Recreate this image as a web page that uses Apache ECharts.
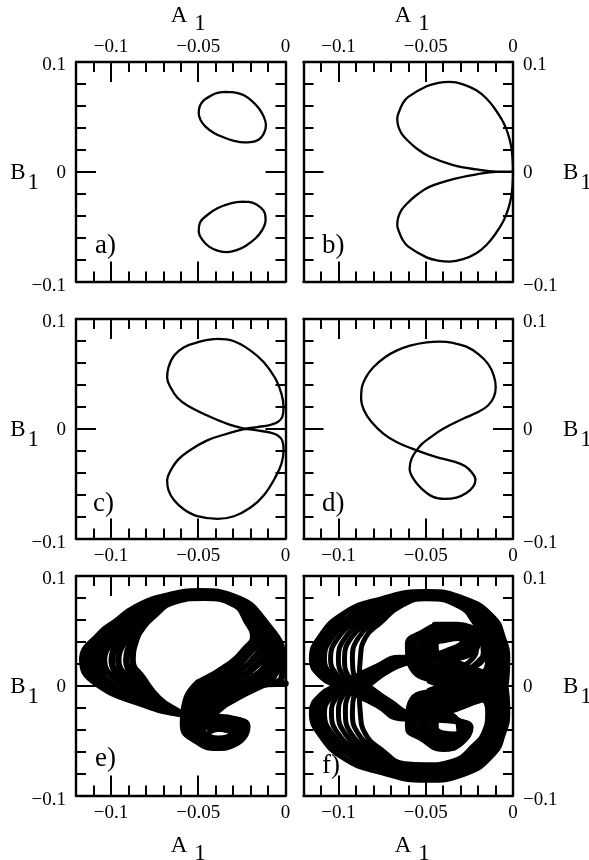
<!DOCTYPE html>
<html><head><meta charset="utf-8">
<style>html,body{margin:0;padding:0;background:#fff}#c{width:589px;height:860px}</style>
<script src="https://cdn.jsdelivr.net/npm/echarts@6/dist/echarts.min.js"></script>
</head><body><div id="c"></div>
<script>
// All curve values are in thousandths of A1 / B1.
const xMajorTicks=[-0.1,-0.05,0];
const xTickLabels=['\u22120.1','\u22120.05','0'];
const yTickLabels=['\u22120.1','0','0.1'];
const panelNames=['a)','b)','c)','d)','e)','f)'];

const aUpper=[[-33.3,72.7],[-28.6,72.1],[-23.8,69.7],[-19,64.2],[-15.2,57.6],[-12.4,50],[-11.2,42.4],[-12.4,34.8],[-15.2,29.4],[-20,26.9],[-23.8,26.7],[-29.5,28.2],[-35.2,31.2],[-41,35.4],[-45.7,40.9],[-48.6,47],[-49.7,53],[-49.1,59.7],[-46.7,65.2],[-42.9,69.1],[-39,71.8],[-33.3,72.7]];
const aLower=[[-23.8,-27.3],[-19,-28.2],[-14.3,-32.4],[-11.8,-37.9],[-11.4,-43.9],[-13.3,-53],[-17.1,-60.6],[-22.9,-67.6],[-27.6,-71.2],[-33.3,-73.3],[-39,-71.8],[-43.8,-68.2],[-47.6,-62.1],[-49.7,-54.5],[-49,-46.4],[-44.8,-39.4],[-39,-33.3],[-31.4,-28.8],[-23.8,-27.3]];
const bCurve=[[0,0],[-0.2,10.6],[-1,22.7],[-2.9,34.8],[-5.7,45.5],[-10.5,57.6],[-15.2,66.7],[-21,74.2],[-28.6,79.7],[-36.2,81.8],[-42.9,80.9],[-49.5,77.9],[-60,68.2],[-63.2,62.1],[-65.3,54.5],[-66.3,48.5],[-65.7,41.5],[-63.8,34.8],[-60.6,28.8],[-55.2,21.2],[-47.6,13.6],[-34.3,6.1],[-21,2.1],[-9.5,0],[0,0],[-9.5,0],[-21,-2.4],[-34.3,-6.7],[-47.6,-13.6],[-55.2,-21.2],[-60.6,-28.8],[-63.8,-34.8],[-65.7,-41.5],[-66.3,-48.5],[-65.3,-54.5],[-63.2,-62.1],[-60,-68.2],[-49.5,-78],[-42.9,-80.9],[-36.2,-81.8],[-28.6,-79.7],[-21,-74.2],[-15.2,-66.7],[-10.5,-57.6],[-5.7,-45.5],[-2.9,-34.8],[-1,-22.7],[-0.2,-10.6],[0,0]];
const cCurve=[[-22.9,0],[-33.3,4.5],[-44.8,12.1],[-56.2,21.2],[-61.9,28.2],[-65.7,37.3],[-67.8,46.4],[-67,56.1],[-63.8,66.7],[-58.1,74.2],[-50.5,78.8],[-39,81.8],[-29.5,79.7],[-20,71.2],[-12.4,60.6],[-5.7,45.5],[-2.3,31.8],[-1.1,19.7],[-1.9,10.6],[-4.4,6.1],[-8.6,3.6],[-16.2,1.5],[-22.9,0],[-31.4,-3.6],[-44.8,-10.6],[-56.2,-21.2],[-61.9,-28.8],[-65.7,-37.9],[-67.8,-47],[-67,-56.1],[-63.8,-65.2],[-58.1,-73.6],[-50.5,-79.7],[-39,-82.1],[-29.5,-79.7],[-20,-71.8],[-12.4,-60.6],[-5.7,-43.9],[-2.3,-31.8],[-1.1,-19.7],[-1.9,-10.6],[-4.4,-6.1],[-8.6,-3.6],[-16.2,-1.5],[-22.9,0]];
const dCurve=[[-55.2,-19.7],[-52.4,-14.2],[-47.6,-8.2],[-40,0],[-28.6,9.1],[-20,15.2],[-14.3,21.2],[-11,28.8],[-9.9,37.9],[-11,48.5],[-14.3,59.1],[-20,68.2],[-26.7,74.8],[-34.3,78.2],[-41.9,79.4],[-49.5,78.8],[-59,75.8],[-66.7,71.2],[-73.3,65.2],[-80,56.1],[-84.2,47],[-86.7,36.4],[-87,27.3],[-85.3,16.7],[-81,6.1],[-74.3,-4.5],[-66.7,-12.1],[-55.2,-19.7],[-43.8,-25.8],[-34.3,-29.7],[-27.6,-33.9],[-23.8,-39.4],[-21.5,-46.4],[-22.9,-53],[-26.7,-58.5],[-32.4,-62.7],[-39,-63.9],[-45.7,-62.1],[-52.4,-54.5],[-57.1,-45.5],[-59.2,-36.4],[-58.1,-27.3],[-55.2,-19.7]];

// Panel e: each row is one passage across the band, inner strand to outer strand.
const eSBandLow=[[-50.1,2.7],[-47.6,-0.3],[-45.1,-3.3],[-42.9,-6.4],[-40.6,-8.4],[-38.3,-11],[-36,-14],[-33.7,-16]];
const eSBandMid=[[-31.4,20.4],[-29.1,17.3],[-26.5,13.7],[-23.8,10],[-21,5.8],[-18.1,2.1],[-15.2,-0.3],[-12.4,1.2]];
const eSBandHigh=[[-22.9,34],[-20,31],[-17.1,27],[-14.3,23.4],[-11.4,18.8],[-8.6,14.9],[-5.7,11.2],[-2.3,6.7]];
const eRightEdge=[[-18.5,44],[-15.8,42.2],[-13.3,40.1],[-10.9,37.1],[-8.6,34],[-6.3,31],[-3.8,27],[-1.3,21.9]];
const eUpperRight=[[-22.3,59],[-21.1,59.3],[-20,59.9],[-18.9,60.5],[-17.7,61.1],[-16.6,61.7],[-15.4,62.3],[-12.5,60]];
const eTopRight=[[-29.5,74.2],[-29.5,75.1],[-29.5,76],[-29.5,76.9],[-29.5,77.8],[-29.5,78.7],[-29.5,79.6],[-29.5,81]];
const eTop=[[-46.7,80.2],[-47,80.8],[-47.4,81.7],[-47.8,82.3],[-48.2,83.2],[-48.6,84.1],[-48.6,85],[-48.6,86]];
const eTopLeft=[[-62.7,77.2],[-63.4,77.8],[-64.2,78.4],[-65,79],[-65.7,79.6],[-66.3,80.6],[-66.9,81.2],[-67.6,82.1]];
const eUpperLeft=[[-77.1,61.4],[-78.5,63.5],[-79.8,65.3],[-81.1,66.9],[-82.5,68.4],[-83.6,69.6],[-84.8,70.8],[-85.7,71.7]];
const eShoulder=[[-82,52.5],[-84,54],[-86,55.5],[-88.5,56.5],[-90.5,57],[-93,57.5],[-96,57.8],[-98,57.5]];
const eLeftHigh=[[-85.5,42.2],[-87.7,43.5],[-90.6,44.7],[-93,45.6],[-96,46.5],[-99,47.1],[-102.5,47.7],[-106.1,47.7]];
const eLeftEdge=[[-87.6,23.4],[-91.2,23.4],[-95.8,23.4],[-99.5,23.4],[-104,23.4],[-108,23.4],[-112,23.4],[-116.4,23.4]];
const eLeftLow=[[-81.5,6.7],[-84.6,5.8],[-88,4.6],[-91.2,3.3],[-94.7,2.1],[-99,0.6],[-103.4,0],[-108.8,2.7]];
const eNarrowing=[[-72.5,-11.6],[-73,-12.8],[-74.1,-13.7],[-75.2,-14.6],[-76.4,-15.8],[-77.5,-16.7],[-78.7,-17.6],[-79.8,-17.9]];
const eCrossing=[[-62,-23],[-62,-23.5],[-61.5,-24],[-61.5,-24.5],[-61,-25],[-61,-25],[-60.5,-25.5],[-60.5,-25.5]];
const eLobeTop=[[-44.8,-37.4],[-44.4,-35.6],[-43.8,-33.7],[-43.2,-31.9],[-42.9,-30.7],[-42.5,-29.8],[-41.9,-28.9],[-41,-28.3]];
const eLobeTopRight=[[-37.1,-38.9],[-35.6,-37.4],[-34.3,-35.9],[-33,-34.3],[-31.8,-32.8],[-30.9,-31.6],[-30.1,-30.7],[-29.5,-30.4]];
const eLobeRight=[[-31,-41.9],[-29.5,-40.7],[-28,-39.5],[-26.5,-38.6],[-25,-37.7],[-23.8,-36.8],[-22.9,-36.2],[-21.9,-36.8]];
const eLobeLowRight=[[-33.3,-47.1],[-32.8,-48],[-32.2,-48.9],[-31.4,-49.8],[-30.9,-50.7],[-30.3,-51.7],[-29.9,-52.6],[-29.5,-53.5]];
const eLobeBottom=[[-38.5,-48.3],[-38.5,-49.5],[-38.7,-50.7],[-38.9,-52],[-38.9,-53.2],[-39,-54.4],[-39.2,-55.3],[-39.2,-56.5]];
const eLobeLowLeft=[[-46.7,-42.9],[-47.4,-44],[-48.2,-45.2],[-48.8,-46.5],[-49.3,-47.7],[-49.7,-48.9],[-49.9,-50.1],[-50.1,-51.4]];
const eLobeLeft=[[-49,-35.9],[-50.5,-35.9],[-52,-35.9],[-53.3,-35.9],[-54.7,-35.9],[-56,-35.9],[-57.3,-35.9],[-58.7,-35.9]];
const eLobeExit=[[-42,-27],[-44,-25],[-46,-23],[-48,-21],[-50,-19],[-53,-17],[-55,-15],[-57,-13]];
const eSBandReturn=[[-33.7,-16],[-36,-14],[-38.3,-11],[-40.6,-8.4],[-42.9,-6.4],[-45.1,-3.3],[-47.6,-0.3],[-50.1,2.7]];
const ePassages=[eSBandLow,eSBandMid,eSBandHigh,eRightEdge,eUpperRight,eTopRight,eTop,eTopLeft,eUpperLeft,eShoulder,eLeftHigh,eLeftEdge,eLeftLow,eNarrowing,eCrossing,eLobeTop,eLobeTopRight,eLobeRight,eLobeLowRight,eLobeBottom,eLobeLowLeft,eLobeLeft,eLobeExit,eSBandReturn];
const eLowerEdge=[[-36,-18],[-30,-13],[-24,-6.5],[-18,-2],[-10,1.5],[0,2]];
const eOuterRight=[[-1.5,12],[-1,20],[-3,31],[-7,43],[-13,56],[-20,68],[-30,78]];
const eFillA=[[-84,69],[-93,55],[-100.5,45],[-106,23.4],[-101,0.5],[-88,-9],[-75,-17]];
const eFillB=[[-85,70],[-95,56],[-104,46],[-110,23.4],[-105,1],[-91,-8],[-77,-18]];
const eFillC=[[-86,71],[-96,57],[-107,45],[-114,23.4],[-107,2.5],[-94,-8],[-78,-18]];
const eFillD=[[-19,5],[-13,11],[-7,19],[-5,30],[-9,42],[-15,54]];
const eFillE=[[-15,4],[-10,8],[-4,15],[-2.5,25]];
const eFillF=[[-23,10],[-17,18],[-11,27],[-9,35],[-12,45]];
const eLobeFill=[[-43,-41],[-38,-39],[-34,-40]];

// Panel f: laps over the top that end in the lower lobe.
const fUpperPassages=[
[[-40,-25],[-41,-22],[-42,-19],[-43,-16],[-44,-13],[-45,-10],[-46,-7],[-48,-4]],
[[-25,-17],[-26,-14],[-27,-11],[-28,-8],[-29,-5],[-30,-2],[-32,1],[-34,4]],
[[-4,0],[-5.5,2],[-7,4],[-8.5,6],[-10,8],[-12,10],[-14,12],[-16,14]],
[[-3,25],[-4.7,25],[-6.4,25],[-8,25],[-9.7,25],[-11.4,25],[-13,25],[-14.5,25]],
[[-5.5,44],[-7,44],[-8.5,44],[-10,44],[-11.5,44],[-13,44],[-15,44],[-17,44]],
[[-11,62],[-12.5,61],[-14,60],[-15.5,59],[-17,58.5],[-18.5,58],[-20,57],[-21.5,56]],
[[-27,79],[-27.5,78],[-28,77],[-28.5,76],[-29,75],[-29.5,74],[-30,73],[-30.5,72]],
[[-50,85.8],[-50,85],[-50,84],[-50,83],[-50,82],[-50,81],[-50,80],[-50,79.3]],
[[-76,79],[-74,78],[-72.5,77],[-71,76],[-69.5,75],[-68,74],[-66.5,73],[-65,72]],
[[-97,66],[-93,64],[-90,63],[-87,62],[-84,61],[-81,60],[-78,59.5],[-75.5,58]],
[[-111,44],[-107.5,44],[-103.5,44],[-100,44],[-96,44],[-92.5,44],[-88.5,44],[-84.5,44]],
[[-115.5,24],[-112,24],[-108,24],[-104.5,24],[-100,24],[-96.5,24],[-92,24],[-87.5,24]],
[[-110,8],[-106.5,8],[-103,8],[-100,8],[-97,8],[-94,8],[-91,8],[-88,8]],
[[-100,-1],[-99,-1],[-97,-1],[-94,-1],[-91,-1],[-88,-1],[-85,-1],[-82,-1]],
[[-78,-18],[-76.5,-17.5],[-75,-17],[-74,-16.5],[-73,-16],[-72,-15.5],[-71,-15],[-70,-14.5]],
[[-65,-30],[-64,-29],[-63,-28],[-62,-27],[-61,-26.5],[-60,-26],[-59,-25],[-58,-24.5]],
[[-38,-32],[-38,-31],[-38,-30],[-38,-29],[-38,-28],[-38,-27],[-38,-26],[-38,-25]],
[[-24,-38],[-25,-38],[-26,-39],[-27,-39],[-28,-40],[-29,-40],[-30,-41],[-31,-41]],
[[-30,-53],[-30.5,-51.5],[-31,-50],[-31.5,-48.5],[-32,-47],[-32.5,-46],[-33,-45],[-33.5,-44]],
[[-40,-58],[-40,-56],[-40,-53.5],[-40,-51],[-40,-49],[-40,-47],[-40,-45],[-40,-43]],
[[-53,-48],[-52,-47],[-50.5,-46],[-49,-45],[-47.5,-44],[-46,-43],[-44.5,-42],[-43,-41]],
[[-60.5,-38],[-58.5,-38],[-56,-38],[-53.5,-38],[-51,-38],[-48.5,-38],[-46,-38],[-44,-38]],
[[-55,-8],[-53,-10],[-51,-12],[-49,-14],[-47,-16],[-45,-18],[-43,-20],[-41,-22]],
[[-42,-5],[-41,-7],[-40,-9],[-39,-11],[-38,-13],[-37,-15],[-36,-16],[-35,-17]]
];
// Panel f: laps under the bottom that end in the upper lobe.
const fLowerPassages=[
[[-40,25],[-41,22],[-42,19],[-43,16],[-44,13],[-45,10],[-46,7],[-48,4]],
[[-25,17],[-26,14],[-27,11],[-28,8],[-29,5],[-30,2],[-32,-1],[-34,-4]],
[[-4,-1],[-5.5,-2],[-7,-4],[-8.5,-6],[-10,-8],[-12,-10],[-14,-12],[-16,-14]],
[[-3,-25],[-4.7,-25],[-6.4,-25],[-8,-25],[-9.7,-25],[-11.4,-25],[-13,-25],[-14.5,-25]],
[[-5.5,-44],[-7,-44],[-8.5,-44],[-10,-44],[-11.5,-44],[-13,-44],[-15,-44],[-17,-44]],
[[-11,-62],[-12.5,-61],[-14,-60],[-15.5,-59],[-17,-58],[-18.5,-56.5],[-20,-55],[-21.5,-53]],
[[-27,-80],[-28,-78.5],[-29,-77],[-30,-75.5],[-31,-74],[-32,-72.5],[-33.5,-71],[-35,-69]],
[[-50,-86.2],[-50,-84],[-50,-82],[-50,-80],[-50,-78],[-50,-76],[-50,-74],[-50,-72]],
[[-76,-79],[-74,-78],[-72.5,-77],[-71,-76],[-69,-75],[-67,-74],[-64.5,-73],[-62,-71]],
[[-97,-66],[-93,-64],[-90,-63],[-87,-62],[-84,-61],[-81,-60],[-78,-59],[-75.5,-58]],
[[-111,-44],[-107,-44],[-103.5,-44],[-100,-44],[-96,-44],[-92.5,-44],[-88.5,-44],[-84.5,-44]],
[[-115.5,-24],[-111.5,-24],[-108,-24],[-104,-24],[-100,-24],[-96,-24],[-92,-24],[-87.5,-24]],
[[-110,-8],[-106.5,-8],[-103,-8],[-100,-8],[-97,-8],[-94,-8],[-91,-8],[-88,-8]],
[[-100,1],[-99,1],[-97,1],[-94,1],[-91,1],[-88,1],[-85,1],[-82,1]],
[[-78,18],[-76.5,17.5],[-75,17],[-74,16.5],[-73,16],[-72,15.5],[-71,15],[-70,14.5]],
[[-65,26],[-64,25],[-63,24.5],[-62,24],[-61,23.5],[-60,23],[-59,22.5],[-58,22]],
[[-38,24],[-38,25],[-38,26.5],[-38,27.5],[-38,29],[-38,30],[-38,31],[-38,32]],
[[-20,38],[-21,38],[-22,39],[-23,39],[-24,40],[-25,40],[-27,41],[-29,41]],
[[-24,51],[-25,49.5],[-26,48],[-27,46],[-28,45],[-29,44.5],[-30,44],[-31,43]],
[[-40,55.5],[-40,53],[-40,50],[-40,47.5],[-40,45.5],[-40,44],[-40,42.5],[-40,41]],
[[-53,48],[-52,46.5],[-50.5,45],[-49,44],[-47.5,43],[-46,42],[-44.5,41.5],[-43,40]],
[[-60.5,38],[-58.5,38],[-56,38],[-53.5,38],[-51,38],[-48.5,38],[-46,38],[-44,38]],
[[-55,10],[-53,12],[-51,14],[-49,15],[-47,16],[-45,18],[-43,20],[-41,22]],
[[-42,5],[-41,7],[-40,9],[-39,11],[-38,13],[-37,15],[-36,16],[-35,17]]
];
// Panel f: extra arcs beside the upper lobe and in the solid outer bands.
const fArcA=[[-45,56],[-32,56],[-22,52],[-16,46],[-13,36],[-16,25],[-23,16],[-33,9],[-44,3]];
const fArcB=[[-42,52],[-30,53],[-21,48],[-18,40],[-17,31],[-20,22],[-27,14],[-38,7]];
const fArcC=[[-38,48],[-29,48],[-23,42],[-21,34],[-23,25],[-30,17],[-40,11]];
const fFillA=[[-90,72],[-101,60],[-109,44],[-113.7,24],[-108,8],[-99,-1],[-85,-12]];
const fFillB=[[-84,74],[-96,60],[-105,44],[-110,24],[-104.5,8],[-98,-1],[-85,-12]];
const fFillC=[[-90,-72],[-101,-60],[-109,-44],[-113.5,-24],[-108,-8],[-99,1],[-85,12]];
const fFillD=[[-84,-74],[-96,-60],[-105,-44],[-109.7,-24],[-104.5,-8],[-98,1],[-85,12]];

const strandsOf=passages=>passages[0].map((_,j)=>passages.map(row=>row[j]));
const panels=[
 {name:panelNames[0],curves:[aUpper,aLower],lw:2.3,sm:0.4,col:0,row:0,xTop:true,named:true},
 {name:panelNames[1],curves:[bCurve],lw:2.3,sm:0.4,col:1,row:0,xTop:true,named:true},
 {name:panelNames[2],curves:[cCurve],lw:2.3,sm:0.4,col:0,row:1,xTop:false,named:false},
 {name:panelNames[3],curves:[dCurve],lw:2.3,sm:0.4,col:1,row:1,xTop:false,named:false},
 {name:panelNames[4],curves:strandsOf(ePassages).concat([eLowerEdge,eOuterRight,eFillA,eFillB,eFillC,eFillD,eFillE,eFillF,eLobeFill]),lw:6.5,sm:0.5,col:0,row:2,xTop:false,named:true},
 {name:panelNames[5],curves:strandsOf(fUpperPassages).concat(strandsOf(fLowerPassages),[fArcA,fArcB,fArcC,fFillA,fFillB,fFillC,fFillD]),lw:5,sm:0.5,col:1,row:2,xTop:false,named:true}
];

const FONT='Liberation Serif';
const lefts=[76,303.5],tops=[62,319,576],W=209.5,H=219.5;
const labelTops=[[[95,232],[322,232]],[[93,490],[322,490]],[[95,745],[322,752]]];
const grids=[],xAxes=[],yAxes=[],series=[],titles=[];
const ticks=len=>({show:true,inside:true,length:len,lineStyle:{color:'#000',width:2}});
const line={show:true,onZero:false,lineStyle:{color:'#000',width:2.4}};
const noLine={show:false,onZero:false};
const nameRich=(padLeft,padRight,subTop)=>({
  m:{fontFamily:FONT,fontSize:23,color:'#000',lineHeight:22,padding:[2,padRight,0,padLeft]},
  s:{fontFamily:FONT,fontSize:23,color:'#000',lineHeight:22,padding:[subTop,0,0,0]}
});
const tickRich={
  p:{fontFamily:FONT,fontSize:19,color:'#000',lineHeight:18,padding:[6,0,0,0]},
  z:{fontFamily:FONT,fontSize:19,color:'#000',lineHeight:18,padding:[2,0,0,0]},
  n:{fontFamily:FONT,fontSize:19,color:'#000',lineHeight:18,padding:[10,0,0,0]}
};
panels.forEach((p,g)=>{
  grids.push({left:lefts[p.col],top:tops[p.row],width:W,height:H,containLabel:false,outerBoundsMode:'none'});
  const xLabelPos=p.xTop?'top':'bottom', xOpp=p.xTop?'bottom':'top';
  const yLabelPos=p.col===0?'left':'right', yOpp=p.col===0?'right':'left';
  const xBase={gridIndex:g,type:'value',min:-0.12,max:0,splitLine:{show:false},axisLine:line};
  const xMain=xAxes.length;
  xAxes.push(Object.assign({},xBase,{position:xLabelPos,interval:0.01,axisTick:ticks(10),
    axisLabel:{show:true,margin:p.xTop?5:8,fontFamily:FONT,fontSize:19,color:'#000',customValues:xMajorTicks,
      formatter:v=>xTickLabels[xMajorTicks.findIndex(t=>Math.abs(t-v)<1e-6)]||''},
    name:p.named?'{m|A}{s|1}':'',nameLocation:'middle',nameGap:p.xTop?36:38,nameMoveOverlap:false,
    nameTextStyle:{rich:nameRich(p.col===0?15:8,7,18)}}));
  xAxes.push(Object.assign({},xBase,{position:xOpp,interval:0.01,axisTick:ticks(10),axisLabel:{show:false}}));
  xAxes.push(Object.assign({},xBase,{position:xLabelPos,axisLine:noLine,axisTick:Object.assign(ticks(20),{customValues:xMajorTicks}),axisLabel:{show:false}}));
  xAxes.push(Object.assign({},xBase,{position:xOpp,axisLine:noLine,axisTick:Object.assign(ticks(20),{customValues:xMajorTicks}),axisLabel:{show:false}}));
  const yBase={gridIndex:g,type:'value',min:-0.1,max:0.1,interval:0.1,splitLine:{show:false},axisLine:line,
    axisTick:ticks(20),minorTick:{show:true,splitNumber:5,length:10,lineStyle:{color:'#000',width:2}}};
  const yMain=yAxes.length;
  yAxes.push(Object.assign({},yBase,{position:yLabelPos,
    axisLabel:{show:true,margin:10,showMinLabel:true,showMaxLabel:true,rich:tickRich,
      formatter:v=>{const i=Math.round(v*10)+1;return '{'+'nzp'[i]+'|'+yTickLabels[i]+'}';}},
    name:'{m|B}{s|1}',nameLocation:'middle',nameRotate:0,nameGap:p.col===0?37:50,nameMoveOverlap:false,
    nameTextStyle:{rich:nameRich(0,2,22)}}));
  yAxes.push(Object.assign({},yBase,{position:yOpp,axisLabel:{show:false}}));
  p.curves.forEach(c=>series.push({type:'line',xAxisIndex:xMain,yAxisIndex:yMain,smooth:p.sm,symbol:'none',silent:true,clip:true,
    lineStyle:{color:'#000',width:p.lw,cap:'round',join:'round'},data:c.map(q=>[q[0]/1000,q[1]/1000])}));
  const lt=labelTops[p.row][p.col];
  titles.push({text:p.name,left:lt[0],top:lt[1],padding:0,textStyle:{fontFamily:FONT,fontSize:27,fontWeight:'normal',color:'#000'}});
});
const chart=echarts.init(document.getElementById('c'),null,{renderer:'canvas'});
chart.setOption({animation:false,backgroundColor:'#fff',title:titles,grid:grids,xAxis:xAxes,yAxis:yAxes,series:series});
</script></body></html>
